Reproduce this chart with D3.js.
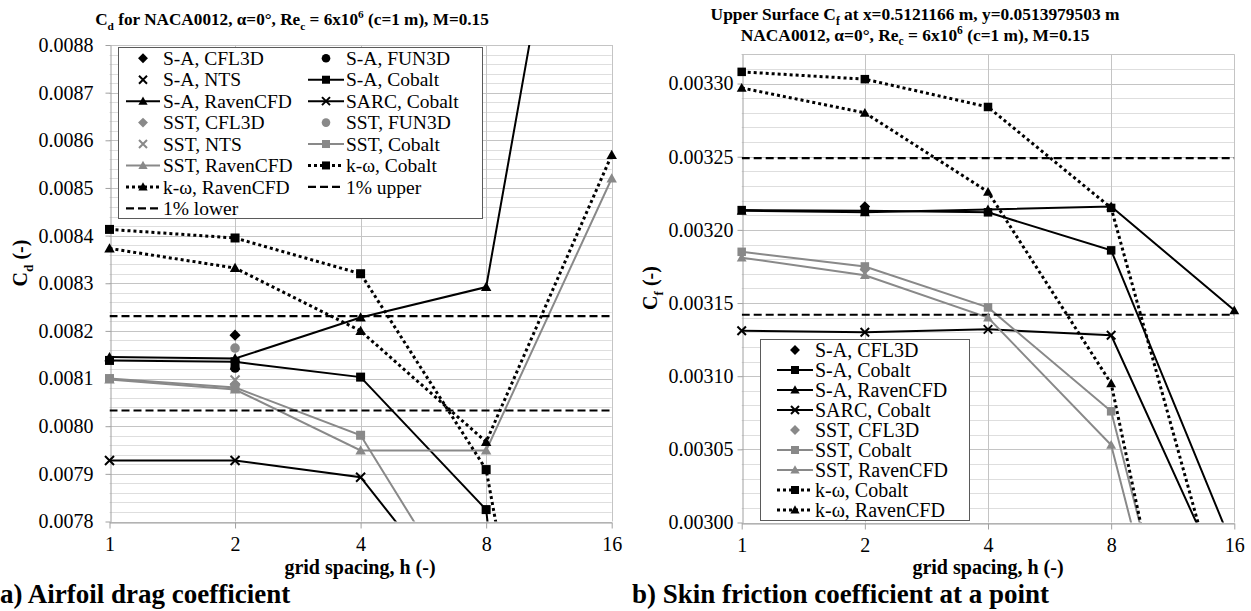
<!DOCTYPE html>
<html>
<head>
<meta charset="utf-8">
<script src="https://cdn.jsdelivr.net/npm/d3@7"></script>
<style>
  body { margin: 0; background: #fff; }
  svg { display: block; }
  svg text { font-family: "Liberation Serif", "Tinos", "Times New Roman", Times, "DejaVu Serif", serif; fill: #000; }
</style>
</head>
<body>
<svg id="chart" width="1251" height="611"></svg>
<script>
// ---------- shared x values ----------
const gridSpacing = [1, 2, 4, 8, 16];

// ---------- panel a: airfoil drag coefficient ----------
const cdTicks = [0.0078, 0.0079, 0.0080, 0.0081, 0.0082, 0.0083, 0.0084, 0.0085, 0.0086, 0.0087, 0.0088];
const cdSaCfl3d     = [null, 0.008191, null, null, null];
const cdSaFun3d     = [null, 0.008122, null, null, null];
const cdSaNts       = [null, 0.008128, null, null, null];
const cdSaCobalt    = [0.008138, 0.008135, 0.008103, 0.007825, 0.005500];
const cdSaRaven     = [0.008145, 0.008142, 0.008228, 0.008292, 0.009770];
const cdSarcCobalt  = [0.007928, 0.007928, 0.007893, 0.007560, null];
const cdSstCfl3d    = [null, 0.008087, null, null, null];
const cdSstFun3d    = [null, 0.008164, null, null, null];
const cdSstNts      = [null, 0.008097, null, null, null];
const cdSstCobalt   = [0.008100, 0.008081, 0.007981, 0.007555, null];
const cdSstRaven    = [0.008098, 0.008077, 0.007949, 0.007949, 0.008520];
const cdKwCobalt    = [0.008413, 0.008395, 0.008320, 0.007909, 0.006470];
const cdKwRaven     = [0.008373, 0.008332, 0.008200, 0.007967, 0.008569];
const cdUpper = 0.008231;
const cdLower = 0.008033;

// ---------- panel b: skin friction coefficient ----------
const cfTicks = [0.00300, 0.00305, 0.00310, 0.00315, 0.00320, 0.00325, 0.00330];
const cfSaCfl3d     = [null, 0.003216, null, null, null];
const cfSaCobalt    = [0.0032135, 0.003213, 0.003212, 0.003186, 0.002981];
const cfSaRaven     = [0.003213, 0.003212, 0.003214, 0.003216, 0.003145];
const cfSarcCobalt  = [0.003131, 0.003130, 0.003132, 0.003128, 0.002943];
const cfSstCfl3d    = [null, 0.003173, null, null, null];
const cfSstCobalt   = [0.003185, 0.003175, 0.003147, 0.003076, 0.002747];
const cfSstRaven    = [0.003181, 0.003169, 0.003140, 0.003053, 0.002725];
const cfKwCobalt    = [0.003308, 0.003303, 0.003284, 0.003215, 0.002910];
const cfKwRaven     = [0.003297, 0.003280, 0.003226, 0.003095, 0.002696];
const cfUpper = 0.003249;
const cfLower = 0.003142;

// ---------- styling ----------
const BLACK = "#000000";
const GREY = "#898989";
const GRID_MAJOR = "#c4c4c4";
const GRID_MINOR = "#dedede";
const AXIS = "#a0a0a0";
const SERIF = "Liberation Serif, Tinos, Times New Roman, DejaVu Serif, serif";

const svg = d3.select("#chart");

function drawMarker(g, type, cx, cy, color, s) {
  const h = s / 2;
  switch (type) {
    case "square":
      g.append("rect").attr("x", cx - h).attr("y", cy - h).attr("width", s).attr("height", s).attr("fill", color);
      break;
    case "triangle":
      g.append("path").attr("d", `M${cx},${cy - s * 0.58}L${cx + s * 0.58},${cy + s * 0.45}L${cx - s * 0.58},${cy + s * 0.45}Z`).attr("fill", color);
      break;
    case "diamond":
      g.append("path").attr("d", `M${cx},${cy - s * 0.62}L${cx + s * 0.62},${cy}L${cx},${cy + s * 0.62}L${cx - s * 0.62},${cy}Z`).attr("fill", color);
      break;
    case "circle":
      g.append("circle").attr("cx", cx).attr("cy", cy).attr("r", h + 0.3).attr("fill", color);
      break;
    case "x":
      g.append("path").attr("d", `M${cx - h},${cy - h}L${cx + h},${cy + h}M${cx - h},${cy + h}L${cx + h},${cy - h}`)
        .attr("stroke", color).attr("stroke-width", 2).attr("fill", "none");
      break;
  }
}

function lineStyle(sel, kind, color) {
  sel.attr("fill", "none").attr("stroke", color);
  if (kind === "dotted") sel.attr("stroke-width", 3).attr("stroke-dasharray", "3,3");
  else if (kind === "dashed") sel.attr("stroke-width", 2.2).attr("stroke-dasharray", "8,4");
  else sel.attr("stroke-width", 2);
  return sel;
}

// rich text with subscripts / superscripts
function richText(sel, parts, fs) {
  let shift = 0;
  sel.attr("font-family", SERIF);
  parts.forEach(([t, kind]) => {
    const target = kind === "sub" ? fs * 0.28 : kind === "sup" ? -fs * 0.38 : 0;
    sel.append("tspan")
      .attr("dy", target - shift)
      .attr("font-size", kind ? fs * 0.66 : fs)
      .text(t);
    shift = target;
  });
}

function drawPanel(cfg) {
  const { id, xRange, yDomain, yRange, ticks, tickFmt, minorStep, series, refLines,
          markerSize, yTickPad, xTickPad } = cfg;
  const x = d3.scaleLog().base(2).domain([1, 16]).range(xRange);
  const y = d3.scaleLinear().domain(yDomain).range(yRange);
  const g = svg.append("g");

  // minor grid
  const nMinor = Math.round((yDomain[1] - yDomain[0]) / minorStep);
  const minor = d3.range(nMinor + 1).map(i => yDomain[0] + i * minorStep);
  g.append("g").selectAll("line").data(minor).join("line")
    .attr("x1", xRange[0]).attr("x2", xRange[1])
    .attr("y1", d => Math.round(y(d)) + 0.5).attr("y2", d => Math.round(y(d)) + 0.5)
    .attr("stroke", GRID_MINOR).attr("stroke-width", 1);
  // major grid
  g.append("g").selectAll("line").data(ticks).join("line")
    .attr("x1", xRange[0]).attr("x2", xRange[1])
    .attr("y1", d => Math.round(y(d)) + 0.5).attr("y2", d => Math.round(y(d)) + 0.5)
    .attr("stroke", GRID_MAJOR).attr("stroke-width", 1);
  // plot-area top edge
  g.append("line").attr("x1", xRange[0]).attr("x2", xRange[1])
    .attr("y1", Math.round(yRange[1]) + 0.5).attr("y2", Math.round(yRange[1]) + 0.5)
    .attr("stroke", GRID_MAJOR).attr("stroke-width", 1);
  g.append("g").selectAll("line").data(gridSpacing.slice(1)).join("line")
    .attr("x1", d => Math.round(x(d)) + 0.5).attr("x2", d => Math.round(x(d)) + 0.5)
    .attr("y1", yRange[1]).attr("y2", yRange[0])
    .attr("stroke", GRID_MAJOR).attr("stroke-width", 1);

  // axes
  const yAxis = g.append("g").attr("transform", `translate(${Math.round(xRange[0]) + 0.5},0)`)
    .call(d3.axisLeft(y).tickValues(ticks).tickFormat(d3.format(tickFmt)).tickSize(5).tickSizeOuter(0).tickPadding(yTickPad));
  const xAxis = g.append("g").attr("transform", `translate(0,${Math.round(yRange[0]) + 0.5})`)
    .call(d3.axisBottom(x).tickValues(gridSpacing).tickFormat(d3.format("d")).tickSize(6).tickSizeOuter(0).tickPadding(xTickPad));
  [yAxis, xAxis].forEach(a => {
    a.attr("font-family", SERIF).attr("font-size", 20);
    a.select(".domain").attr("stroke", AXIS);
    a.selectAll(".tick line").attr("stroke", AXIS);
    a.selectAll(".tick text").attr("font-size", 20).attr("font-family", SERIF).attr("fill", "#000");
  });

  // clipping for lines
  svg.append("clipPath").attr("id", id).append("rect")
    .attr("x", xRange[0]).attr("y", yRange[1])
    .attr("width", xRange[1] - xRange[0]).attr("height", yRange[0] - yRange[1]);

  const plot = g.append("g");
  const lines = plot.append("g").attr("clip-path", `url(#${id})`);
  const marks = plot.append("g");
  const lineGen = d3.line().defined(d => d[1] != null).x(d => x(d[0])).y(d => y(d[1]));

  series.forEach(s => {
    const pts = gridSpacing.map((h, i) => [h, s.values[i]]);
    if (s.line !== "none") {
      lineStyle(lines.append("path").datum(pts).attr("d", lineGen), s.line, s.color);
    }
    pts.forEach(([h, v]) => {
      if (v == null || v < yDomain[0] || v > yDomain[1]) return;
      drawMarker(marks, s.marker, x(h), y(v), s.color, markerSize);
    });
  });
  refLines.forEach(r => {
    lineStyle(lines.append("line").attr("x1", xRange[0]).attr("x2", xRange[1])
      .attr("y1", y(r.value)).attr("y2", y(r.value)), "dashed", BLACK);
  });
  return { x, y, g };
}

function drawLegendEntry(g, s, lx0, lx1, mx, tx, cy, fs, ms) {
  if (s.line !== "none") {
    lineStyle(g.append("line").attr("x1", lx0).attr("x2", lx1).attr("y1", cy).attr("y2", cy), s.line, s.color);
  }
  if (s.marker) drawMarker(g, s.marker, mx, cy, s.color, ms);
  g.append("text").attr("x", tx).attr("y", cy).attr("dy", "0.34em").attr("font-size", fs)
    .attr("font-family", SERIF).text(s.name);
}

// ---------- panel a ----------
const seriesA = [
  { name: "S-A, CFL3D", values: cdSaCfl3d, color: BLACK, marker: "diamond", line: "none" },
  { name: "S-A, FUN3D", values: cdSaFun3d, color: BLACK, marker: "circle", line: "none" },
  { name: "S-A, NTS", values: cdSaNts, color: BLACK, marker: "x", line: "none" },
  { name: "S-A, Cobalt", values: cdSaCobalt, color: BLACK, marker: "square", line: "solid" },
  { name: "S-A, RavenCFD", values: cdSaRaven, color: BLACK, marker: "triangle", line: "solid" },
  { name: "SARC, Cobalt", values: cdSarcCobalt, color: BLACK, marker: "x", line: "solid" },
  { name: "SST, CFL3D", values: cdSstCfl3d, color: GREY, marker: "diamond", line: "none" },
  { name: "SST, FUN3D", values: cdSstFun3d, color: GREY, marker: "circle", line: "none" },
  { name: "SST, NTS", values: cdSstNts, color: GREY, marker: "x", line: "none" },
  { name: "SST, Cobalt", values: cdSstCobalt, color: GREY, marker: "square", line: "solid" },
  { name: "SST, RavenCFD", values: cdSstRaven, color: GREY, marker: "triangle", line: "solid" },
  { name: "k-\u03c9, Cobalt", values: cdKwCobalt, color: BLACK, marker: "square", line: "dotted" },
  { name: "k-\u03c9, RavenCFD", values: cdKwRaven, color: BLACK, marker: "triangle", line: "dotted" }
];
drawPanel({
  id: "clipA", xRange: [109.5, 611.7], yDomain: [0.0078, 0.0088], yRange: [521.5, 45],
  ticks: cdTicks, tickFmt: ".4f", minorStep: 0.00002, series: seriesA,
  refLines: [{ value: cdUpper }, { value: cdLower }], markerSize: 9, yTickPad: 12, xTickPad: 8
});

// legend a
{
  const lg = svg.append("g");
  lg.append("rect").attr("x", 118.5).attr("y", 47.5).attr("width", 364).attr("height", 171)
    .attr("fill", "#fff").attr("stroke", "#5a5a5a").attr("stroke-width", 1);
  const entries = seriesA.concat([
    { name: "1% upper", color: BLACK, marker: null, line: "dashed" },
    { name: "1% lower", color: BLACK, marker: null, line: "dashed" }
  ]);
  const cols = [{ l0: 126, l1: 160, m: 143, t: 163 }, { l0: 308, l1: 344, m: 326, t: 346 }];
  entries.forEach((s, i) => {
    const c = cols[i % 2];
    const cy = 58.3 + Math.floor(i / 2) * 21.43;
    drawLegendEntry(lg, s, c.l0, c.l1, c.m, c.t, cy, 19.5, 8);
  });
}

// ---------- panel b ----------
const seriesB = [
  { name: "S-A, CFL3D", values: cfSaCfl3d, color: BLACK, marker: "diamond", line: "none" },
  { name: "S-A, Cobalt", values: cfSaCobalt, color: BLACK, marker: "square", line: "solid" },
  { name: "S-A, RavenCFD", values: cfSaRaven, color: BLACK, marker: "triangle", line: "solid" },
  { name: "SARC, Cobalt", values: cfSarcCobalt, color: BLACK, marker: "x", line: "solid" },
  { name: "SST, CFL3D", values: cfSstCfl3d, color: GREY, marker: "diamond", line: "none" },
  { name: "SST, Cobalt", values: cfSstCobalt, color: GREY, marker: "square", line: "solid" },
  { name: "SST, RavenCFD", values: cfSstRaven, color: GREY, marker: "triangle", line: "solid" },
  { name: "k-\u03c9, Cobalt", values: cfKwCobalt, color: BLACK, marker: "square", line: "dotted" },
  { name: "k-\u03c9, RavenCFD", values: cfKwRaven, color: BLACK, marker: "triangle", line: "dotted" }
];
drawPanel({
  id: "clipB", xRange: [741.7, 1234.3], yDomain: [0.00300, 0.00332], yRange: [522.5, 54.3],
  ticks: cfTicks, tickFmt: ".5f", minorStep: 0.00001, series: seriesB,
  refLines: [{ value: cfUpper }, { value: cfLower }], markerSize: 8.5, yTickPad: 4, xTickPad: 8
});

// legend b
{
  const lg = svg.append("g");
  lg.append("rect").attr("x", 760.5).attr("y", 339.5).attr("width", 209).attr("height", 181)
    .attr("fill", "#fff").attr("stroke", "#5a5a5a").attr("stroke-width", 1);
  seriesB.forEach((s, i) => {
    drawLegendEntry(lg, s, 777, 813, 795, 815, 350 + i * 20, 20, 8);
  });
}

// ---------- titles and axis labels ----------
richText(svg.append("text").attr("x", 292).attr("y", 25).attr("text-anchor", "middle").attr("font-weight", "bold"),
  [["C"], ["d", "sub"], [" for NACA0012, \u03b1=0\u00b0, Re"], ["c", "sub"], [" = 6x10"], ["6", "sup"], [" (c=1 m), M=0.15"]], 17.2);

richText(svg.append("text").attr("x", 915).attr("y", 20).attr("text-anchor", "middle").attr("font-weight", "bold"),
  [["Upper Surface C"], ["f", "sub"], [" at x=0.5121166 m, y=0.0513979503 m"]], 17.4);
richText(svg.append("text").attr("x", 915).attr("y", 40.5).attr("text-anchor", "middle").attr("font-weight", "bold"),
  [["NACA0012, \u03b1=0\u00b0, Re"], ["c", "sub"], [" = 6x10"], ["6", "sup"], [" (c=1 m), M=0.15"]], 17.4);

richText(svg.append("text").attr("transform", "translate(27,263) rotate(-90)").attr("text-anchor", "middle").attr("font-weight", "bold"),
  [["C"], ["d", "sub"], [" (-)"]], 20);
richText(svg.append("text").attr("transform", "translate(657,288) rotate(-90)").attr("text-anchor", "middle").attr("font-weight", "bold"),
  [["C"], ["f", "sub"], [" (-)"]], 20);

svg.append("text").attr("x", 360).attr("y", 573.5).attr("text-anchor", "middle").attr("font-weight", "bold")
  .attr("font-size", 20).attr("font-family", SERIF).text("grid spacing, h (-)");
svg.append("text").attr("x", 988).attr("y", 574).attr("text-anchor", "middle").attr("font-weight", "bold")
  .attr("font-size", 20).attr("font-family", SERIF).text("grid spacing, h (-)");

svg.append("text").attr("x", 0).attr("y", 602.5).attr("font-weight", "bold").attr("font-size", 27)
  .attr("font-family", SERIF).text("a) Airfoil drag coefficient");
svg.append("text").attr("x", 632).attr("y", 602.5).attr("font-weight", "bold").attr("font-size", 27)
  .attr("font-family", SERIF).text("b) Skin friction coefficient at a point");
</script>
</body>
</html>
